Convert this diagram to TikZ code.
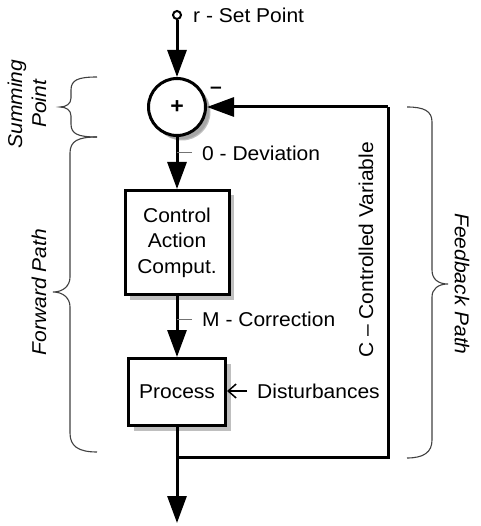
\documentclass[tikz,border=0pt]{standalone}
\usepackage{fontspec}
\setmainfont{Liberation Sans}[FakeStretch=1.05]
\usetikzlibrary{arrows.meta,shadows}
\begin{document}
\begin{tikzpicture}[x=1pt,y=-1pt,
  every node/.style={font=\fontsize{20}{25.5}\selectfont},
  mainline/.style={line width=3pt},
  arr/.style={mainline,-{Triangle[length=27pt,width=19pt]}},
  block/.style={draw,line width=3pt,fill=white,inner sep=0pt,
    drop shadow={shadow xshift=5pt,shadow yshift=-5pt,fill=black!25,opacity=1}},
  bracestyle/.style={draw=black!75,line width=1.1pt},
  tickline/.style={draw=black!55,line width=1pt},
  lbl/.style={anchor=west,inner xsep=10pt,inner ysep=0pt},
  sidelbl/.style={font=\fontsize{20}{24}\selectfont\itshape,align=center,inner sep=0pt}
]
\useasboundingbox (0,0) rectangle (480,526);

% nodes
\node[circle,draw,line width=2pt,minimum size=8pt,inner sep=0pt] (r) at (177,15) {};
\node[anchor=west,inner sep=0pt] (rlbl) at (193,15) {r - Set Point};
\node[block,circle,minimum size=57pt,font=\fontsize{22}{24}\selectfont\bfseries,
  drop shadow={shadow xshift=4pt,shadow yshift=-4pt,fill=black!35,opacity=1}] (sum) at (177,107) {+};
\node[anchor=base,inner sep=0pt,font=\fontsize{20}{24}\selectfont\bfseries] (minus) at (216,94) {–};
\node[block,minimum width=104pt,minimum height=104pt,align=center] (ctrl) at (177,242.5) {Control\\Action\\Comput.};
\node[block,minimum width=97pt,minimum height=67pt] (proc) at (177,392) {Process};

\node[lbl] (dev) at (192,153) {0 - Deviation};
\node[lbl] (corr) at (192,319) {M - Correction};
\node[lbl] (dist) at (247,391) {Disturbances};
\node[rotate=90,inner sep=0pt] (cv) at (366,250) {C – Controlled Variable};

\node[sidelbl,rotate=90] (sp) at (27,104) {Summing\\Point};
\node[sidelbl,rotate=90] (fp) at (39,292) {Forward Path};
\node[sidelbl,rotate=-90] (fbp) at (462,284) {Feedback Path};

\coordinate (split) at (177,457);
\coordinate (fbtop) at (388,107);
\coordinate (out) at (177,523);

% connectors
\draw[arr] (r) -- (sum);
\draw[arr] (sum) -- (ctrl);
\draw[arr] (ctrl) -- (proc);
\draw[arr] (proc) -- (out);
\draw[mainline] (split) -| (fbtop);
\draw[arr] (fbtop) -- (sum.east);
\draw[line width=1.5pt,-{Straight Barb[length=8pt,width=14pt]}] (dist.west) -- (dist.west -| proc.east);

% leader ticks
\draw[tickline] (dev.west) -- (dev.west -| sum.south);
\draw[tickline] (corr.west) -- (corr.west -| ctrl.south);

% braces
\draw[bracestyle] (97,77) .. controls (78,77) and (71,80) .. (71,90) -- (71,98)
  .. controls (71,104) and (66,107) .. (60,107)
  .. controls (66,107) and (71,110) .. (71,116) -- (71,124)
  .. controls (71,134) and (78,137) .. (97,137);
\draw[bracestyle] (97,137) .. controls (78,137) and (70,141) .. (70,153) -- (70,277)
  .. controls (70,286) and (63,292) .. (53,292)
  .. controls (63,292) and (70,298) .. (70,307) -- (70,433)
  .. controls (70,446) and (78,452) .. (97,452);
\draw[bracestyle] (407,107) .. controls (424,107) and (432,111) .. (432,122) -- (432,270)
  .. controls (432,279) and (438,284) .. (448,284)
  .. controls (438,284) and (432,289) .. (432,297) -- (432,440)
  .. controls (432,452) and (424,458) .. (407,458);
\end{tikzpicture}
\end{document}
